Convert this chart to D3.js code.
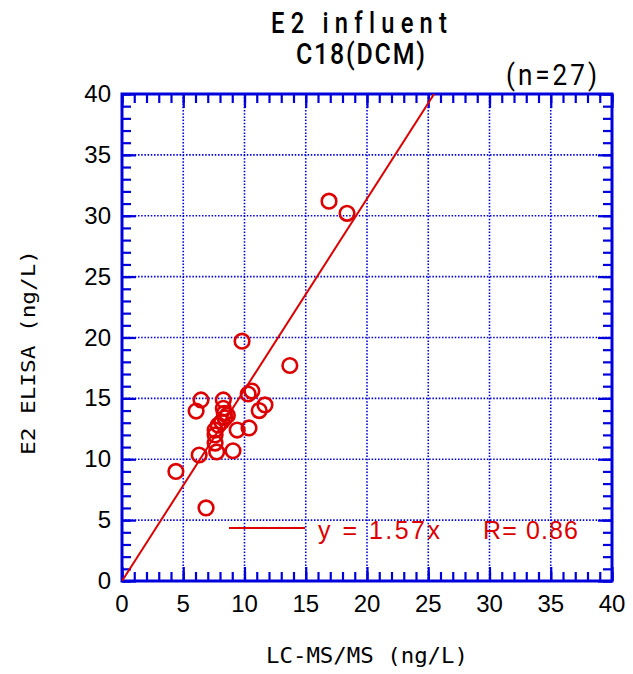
<!DOCTYPE html>
<html>
<head>
<meta charset="utf-8">
<script src="https://cdn.jsdelivr.net/npm/d3@7"></script>
<style>
  html, body { margin: 0; padding: 0; background: #fff; }
  svg { display: block; }
  text { font-variant-ligatures: none; }
</style>
</head>
<body>
<svg id="chart" width="633" height="674"></svg>
<script>
// ---- data ----
const lcms = [16.9, 18.37, 9.8, 13.7, 4.4, 6.86, 6.3, 6.05, 6.45, 9.06, 9.4, 10.37, 10.3, 10.6, 11.2, 11.67,
              8.27, 8.27, 8.35, 8.4, 8.14, 7.86, 7.6, 7.6, 7.6, 7.73, 8.6];
const elisa = [31.2, 30.2, 19.7, 17.7, 9.0, 6.0, 10.35, 13.96, 14.87, 10.7, 12.4, 12.57, 15.36, 15.6, 14.0, 14.46,
               14.87, 14.18, 13.77, 13.4, 13.08, 12.8, 12.4, 12.0, 11.33, 10.6, 13.6];
const slope = 1.57;
const rValue = 0.86;
const tickValues = [0, 5, 10, 15, 20, 25, 30, 35, 40];
const minorTicks = d3.range(0, 41, 1);
const titleLines = ["E2 influent", "C18(DCM)"];
const nLabel = "(n=27)";
const xTitle = "LC-MS/MS (ng/L)";
const yTitle = "E2 ELISA (ng/L)";

// ---- layout ----
const L = 122, R = 612, T = 94, B = 581;
const blue = "#0000dd", red = "#dd0000";
const svg = d3.select("#chart");
const x = d3.scaleLinear().domain([0, 40]).range([L, R]);
const y = d3.scaleLinear().domain([0, 40]).range([B, T]);

// grid
const grid = svg.append("g");
grid.selectAll("line.gx").data(tickValues.slice(1, -1)).join("line")
  .attr("x1", d => x(d)).attr("x2", d => x(d)).attr("y1", T).attr("y2", B)
  .attr("stroke", blue).attr("stroke-width", 1.6).attr("stroke-dasharray", "1.5,1.7");
grid.selectAll("line.gy").data(tickValues.slice(1, -1)).join("line")
  .attr("y1", d => y(d)).attr("y2", d => y(d)).attr("x1", L).attr("x2", R)
  .attr("stroke", blue).attr("stroke-width", 1.6).attr("stroke-dasharray", "1.5,1.7");

// clip
svg.append("clipPath").attr("id", "clip").append("rect")
  .attr("x", L).attr("y", T).attr("width", R - L).attr("height", B - T);

// ticks (inward) on all four sides via d3 axes
function styleAxis(g) {
  g.select(".domain").remove();
  g.selectAll("line").attr("stroke", blue).attr("stroke-width", 2.2);
  g.selectAll("text").remove();
}
const minorLen = 9, majorLen = 14;
svg.append("g").attr("transform", `translate(0,${B})`)
  .call(d3.axisTop(x).tickValues(minorTicks).tickSize(minorLen)).call(styleAxis);
svg.append("g").attr("transform", `translate(0,${B})`)
  .call(d3.axisTop(x).tickValues(tickValues).tickSize(majorLen)).call(styleAxis);
svg.append("g").attr("transform", `translate(0,${T})`)
  .call(d3.axisBottom(x).tickValues(minorTicks).tickSize(minorLen)).call(styleAxis);
svg.append("g").attr("transform", `translate(0,${T})`)
  .call(d3.axisBottom(x).tickValues(tickValues).tickSize(majorLen)).call(styleAxis);
svg.append("g").attr("transform", `translate(${L},0)`)
  .call(d3.axisRight(y).tickValues(minorTicks).tickSize(minorLen)).call(styleAxis);
svg.append("g").attr("transform", `translate(${L},0)`)
  .call(d3.axisRight(y).tickValues(tickValues).tickSize(majorLen)).call(styleAxis);
svg.append("g").attr("transform", `translate(${R},0)`)
  .call(d3.axisLeft(y).tickValues(minorTicks).tickSize(minorLen)).call(styleAxis);
svg.append("g").attr("transform", `translate(${R},0)`)
  .call(d3.axisLeft(y).tickValues(tickValues).tickSize(majorLen)).call(styleAxis);

// frame
svg.append("rect").attr("x", L).attr("y", T).attr("width", R - L).attr("height", B - T)
  .attr("fill", "none").attr("stroke", blue).attr("stroke-width", 3);

// tick labels
const lblFont = "'Liberation Sans', Arial, sans-serif";
svg.append("g").selectAll("text").data(tickValues).join("text")
  .attr("x", d => x(d)).attr("y", B + 31).attr("text-anchor", "middle")
  .attr("font-family", lblFont).attr("font-size", 24).attr("fill", "#000").text(d => d);
svg.append("g").selectAll("text").data(tickValues).join("text")
  .attr("x", L - 11).attr("y", d => y(d) + 8).attr("text-anchor", "end")
  .attr("font-family", lblFont).attr("font-size", 24).attr("fill", "#000").text(d => d);

// regression line
svg.append("line").attr("clip-path", "url(#clip)")
  .attr("x1", x(0)).attr("y1", y(0)).attr("x2", x(40)).attr("y2", y(40 * slope))
  .attr("stroke", red).attr("stroke-width", 2);

// points
svg.append("g").selectAll("circle").data(lcms.map((v, i) => [v, elisa[i]])).join("circle")
  .attr("cx", d => x(d[0])).attr("cy", d => y(d[1])).attr("r", 7.3)
  .attr("fill", "none").attr("stroke", red).attr("stroke-width", 2.6);

// legend
svg.append("line").attr("x1", 229).attr("x2", 305).attr("y1", 528).attr("y2", 528)
  .attr("stroke", red).attr("stroke-width", 2);
svg.append("text").attr("x", 318).attr("y", 539).attr("font-family", lblFont).attr("font-size", 25)
  .attr("fill", red).attr("textLength", 122).attr("lengthAdjust", "spacing")
  .text(`y = ${slope.toFixed(2)}x`);
svg.append("text").attr("x", 483).attr("y", 539).attr("font-family", lblFont).attr("font-size", 25)
  .attr("fill", red).attr("textLength", 95).attr("lengthAdjust", "spacing")
  .text(`R= ${rValue.toFixed(2)}`);

// titles (tall, narrow glyphs: horizontally scaled)
const titleFont = "Roboto, 'Liberation Sans', sans-serif";
function narrowText(str, x0, yb, width, size, weight, sx) {
  svg.append("text").attr("transform", `translate(${x0},${yb}) scale(${sx},1)`)
    .attr("font-family", titleFont).attr("font-weight", weight).attr("font-size", size)
    .attr("textLength", width / sx).attr("lengthAdjust", "spacing").text(str);
}
narrowText(titleLines[0], 271, 33, 176, 29, 500, 0.82);
narrowText(titleLines[1], 296, 64, 129, 29, 500, 0.86);
narrowText(nLabel, 506, 85, 91, 29, 400, 0.9);

// axis titles
const mono = "'DejaVu Sans Mono', 'Liberation Mono', monospace";
svg.append("text").attr("x", 266).attr("y", 663).attr("font-family", mono).attr("font-size", 21)
  .attr("textLength", 202).attr("lengthAdjust", "spacingAndGlyphs").text(xTitle);
svg.append("text").attr("transform", "translate(35,455) rotate(-90)").attr("font-family", mono)
  .attr("font-size", 20).attr("textLength", 205).attr("lengthAdjust", "spacingAndGlyphs").text(yTitle);
</script>
</body>
</html>
